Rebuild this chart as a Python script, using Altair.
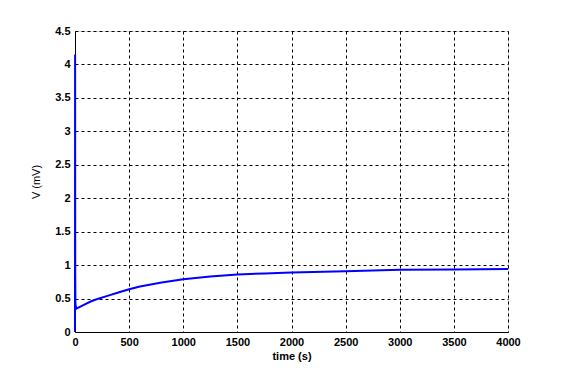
import altair as alt
import pandas as pd

time_s = [0, 1, 2, 4, 8, 15, 25, 50, 100, 150, 200, 300, 400, 500, 600, 700, 800, 1000, 1250, 1500, 1750, 2000, 2500, 3000, 3500, 4000]
volt_mv = [0, 4.15, 0.9, 0.42, 0.38, 0.35, 0.36, 0.38, 0.42, 0.46, 0.49, 0.54, 0.59, 0.64, 0.68, 0.71, 0.74, 0.79, 0.83, 0.86, 0.875, 0.89, 0.91, 0.93, 0.935, 0.94]

df = pd.DataFrame({"t": time_s, "v": volt_mv})

x_ticks = [0, 500, 1000, 1500, 2000, 2500, 3000, 3500, 4000]
y_ticks = [0, 0.5, 1, 1.5, 2, 2.5, 3, 3.5, 4, 4.5]

common = dict(
    grid=True, gridColor="black", gridDash=[3, 3], gridOpacity=1, gridWidth=1,
    domainColor="black", domainOpacity=1, ticks=False, zindex=0,
    labelFont="Liberation Sans", labelFontSize=11, labelFontWeight="bold", labelColor="black",
    titleFont="Liberation Sans", titleFontSize=11, titleColor="black",
    labelFlush=False, labelOverlap=False,
)

chart = alt.Chart(df).mark_line(color="#0000FF", strokeWidth=2).encode(
    x=alt.X("t:Q", title="time (s)", scale=alt.Scale(domain=[0, 4000], nice=False),
            axis=alt.Axis(values=x_ticks, format="d", titleFontWeight="bold",
                          titlePadding=3, labelPadding=4, **common)),
    y=alt.Y("v:Q", title="V (mV)", scale=alt.Scale(domain=[0, 4.5], nice=False),
            axis=alt.Axis(values=y_ticks, format="~g", titleFontWeight="normal",
                          titlePadding=13, labelPadding=5, **common)),
    order="t:Q",
).properties(
    width=433, height=301,
    autosize=alt.AutoSizeParams(type="none"),
    padding={"left": 67, "top": 23, "right": 48, "bottom": 40},
).configure_view(
    stroke="black", strokeWidth=1, strokeOpacity=1
).configure(background="white")

chart.save("out.html", embed_options={"renderer": "svg", "actions": False})
